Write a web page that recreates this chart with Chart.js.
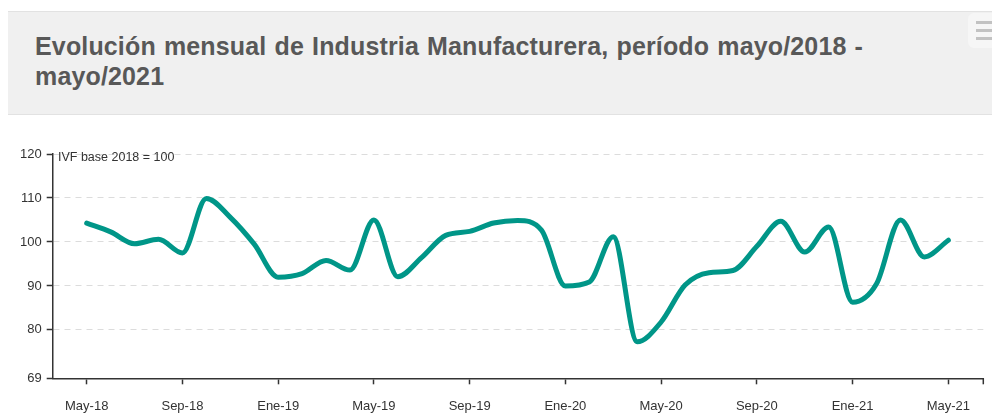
<!DOCTYPE html>
<html>
<head>
<meta charset="utf-8">
<script src="https://cdn.jsdelivr.net/npm/chart.js@4/dist/chart.umd.min.js"></script>
<style>
  html, body { margin: 0; padding: 0; background: #fff; }
  #wrap { position: relative; width: 992px; height: 414px; overflow: hidden; font-family: "Liberation Sans", Arial, sans-serif; }
  #header {
    position: absolute; left: 8px; top: 11px; width: 984px; height: 102px;
    background: #f0f0f0; border-top: 1px solid #e2e2e2; border-bottom: 1px solid #e2e2e2;
  }
  #title {
    position: absolute; left: 27px; top: 19px; width: 900px;
    font-size: 25px; line-height: 30px; font-weight: bold; color: #585858;
    letter-spacing: 0.15px; word-spacing: 1px;
  }
  #menu { position: absolute; left: 968px; top: 13px; width: 40px; height: 35px; background: #f6f6f6; border-radius: 6px; }
  .bar { position: absolute; left: 8px; width: 24px; height: 3px; background: #c2c2c2; }
  #unit { position: absolute; left: 58px; top: 150px; font-size: 12.5px; color: #333; }
  canvas { position: absolute; left: 0; top: 0; }
</style>
</head>
<body>
<div id="wrap">
  <canvas id="chart" width="992" height="414"></canvas>
  <div id="header">
    <div id="title">Evolución mensual de Industria Manufacturera, período mayo/2018 -<br>mayo/2021</div>
  </div>
  <div id="menu"><div class="bar" style="top:8px"></div><div class="bar" style="top:16px"></div><div class="bar" style="top:24px"></div></div>
  <div id="unit">IVF base 2018 = 100</div>
</div>
<script>
// months May-18 .. May-21
const months = [
  'May-18','Jun-18','Jul-18','Ago-18','Sep-18','Oct-18','Nov-18','Dic-18',
  'Ene-19','Feb-19','Mar-19','Abr-19','May-19','Jun-19','Jul-19','Ago-19',
  'Sep-19','Oct-19','Nov-19','Dic-19','Ene-20','Feb-20','Mar-20','Abr-20',
  'May-20','Jun-20','Jul-20','Ago-20','Sep-20','Oct-20','Nov-20','Dic-20',
  'Ene-21','Feb-21','Mar-21','Abr-21','May-21'
];
const ivf = [
  104.3, 102.3, 99.6, 100.6, 97.5, 109.9, 105.6, 99.5,
  92.0, 92.8, 95.8, 93.6, 105.0, 92.1, 96.5, 101.5,
  102.4, 104.3, 104.9, 102.7, 90.0, 90.9, 101.2, 77.3,
  81.8, 90.2, 93.0, 93.5, 99.0, 104.7, 97.7, 103.4,
  86.3, 90.5, 105.0, 96.6, 100.4
];
const xTickIdx = [0, 4, 8, 12, 16, 20, 24, 28, 32, 36];
const yTicks = [69, 80, 90, 100, 110, 120];

const xMin = -1.42, xMax = 37.46;
const axisColor = '#333';
const tickFont = { family: '"Liberation Sans", Arial, sans-serif', size: 13 };

const points = ivf.map((v, i) => ({ x: i, y: v }));

// outer tick at the right end of the x axis
const endTick = {
  id: 'endTick',
  afterDraw(chart) {
    const x = chart.scales.x;
    const c = chart.ctx;
    const px = x.getPixelForValue(xMax);
    c.save();
    c.strokeStyle = axisColor;
    c.lineWidth = 1.5;
    c.beginPath();
    c.moveTo(px, x.top);
    c.lineTo(px, x.top + 6);
    c.stroke();
    c.restore();
  }
};

const ctx = document.getElementById('chart').getContext('2d');
const chart = new Chart(ctx, {
  type: 'line',
  data: {
    datasets: [{
      label: 'IVF',
      data: points,
      borderColor: '#009688',
      borderWidth: 5,
      borderCapStyle: 'round',
      borderJoinStyle: 'round',
      cubicInterpolationMode: 'monotone',
      pointRadius: 0,
      fill: false,
      clip: false
    }]
  },
  options: {
    responsive: false,
    animation: false,
    layout: { padding: { top: 154, right: 8.7, left: 0, bottom: 0 } },
    plugins: { legend: { display: false }, tooltip: { enabled: false } },
    scales: {
      x: {
        type: 'linear',
        min: xMin,
        max: xMax,
        bounds: 'data',
        afterBuildTicks: (scale) => {
          scale.ticks = xTickIdx.map(v => ({ value: v }));
        },
        afterFit: (scale) => { scale.height = 35.7; },
        grid: { drawOnChartArea: false, drawTicks: true, tickLength: 6, tickColor: axisColor, tickWidth: 1.5 },
        border: { display: true, color: axisColor, width: 1.5 },
        ticks: {
          autoSkip: false,
          maxRotation: 0,
          padding: 14,
          color: '#333',
          font: tickFont,
          callback: (v) => months[v]
        }
      },
      y: {
        type: 'linear',
        min: 69,
        max: 120,
        afterBuildTicks: (scale) => {
          scale.ticks = yTicks.map(v => ({ value: v }));
        },
        afterFit: (scale) => { scale.width = 52.7; },
        grid: {
          color: (c) => (c.tick && c.tick.value === 69) ? 'rgba(0,0,0,0)' : '#dcdcdc',
          lineWidth: 1,
          drawTicks: true,
          tickLength: 6,
          tickColor: axisColor,
          tickWidth: 1.5
        },
        border: { display: true, color: axisColor, width: 1.5, dash: [6, 5] },
        ticks: {
          padding: 5,
          color: '#333',
          font: tickFont
        }
      }
    }
  },
  plugins: [endTick]
});
</script>
</body>
</html>
